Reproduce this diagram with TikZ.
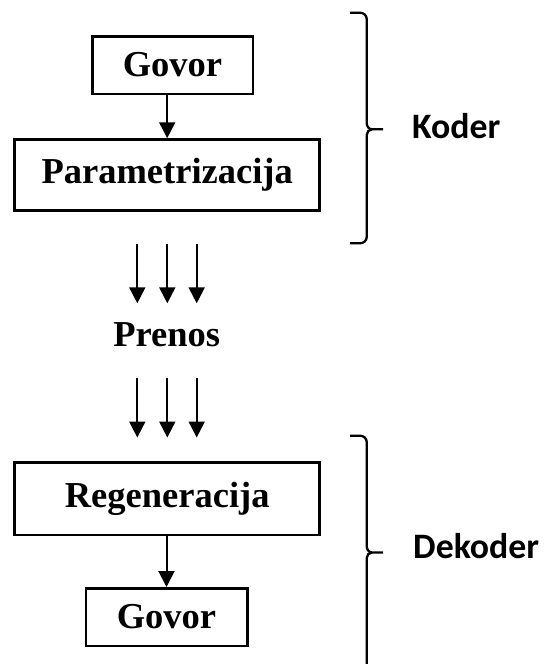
\documentclass[tikz,border=0pt]{standalone}
\usepackage{fontspec}
\setmainfont{Liberation Serif}
\newfontfamily\labelfont{Carlito}
\usetikzlibrary{arrows.meta}
\begin{document}
\begin{tikzpicture}[x=1pt,y=1pt,
  blockfont/.style={font=\bfseries\fontsize{36.5}{42}\selectfont},
  blockbox/.style={draw, line width=2.5pt, inner sep=0pt, blockfont},
  flow/.style={line width=2pt, -{Triangle[length=16pt,width=16pt]}},
  bracket/.style={line width=2.3pt},
  side/.style={font=\labelfont\bfseries\fontsize{35.8}{40}\selectfont,
    inner sep=0pt, anchor=base west}]
\useasboundingbox (0,0) rectangle (544,-664);

% encoder blocks
\node[blockbox, minimum width=160.5pt, minimum height=57.5pt] (g1) at (172.5,-65) {Govor};
\node[blockbox, minimum width=305pt, minimum height=71pt] (p) at (167.2,-175) {Parametrizacija};
\draw[flow] (g1.south -| p.north) -- (p.north);

% transmission
\node[blockfont, inner sep=0pt, anchor=base] (t) at (166.7,-346.7) {Prenos};
\foreach \i/\x in {1/137.3,2/167.3,3/196.7}{
  \coordinate (u\i) at (\x,-244.3);
  \coordinate (v\i) at (\x,-303.3);
  \coordinate (w\i) at (\x,-378.3);
  \coordinate (z\i) at (\x,-437.5);
  \draw[flow] (u\i) -- (v\i);
  \draw[flow] (w\i) -- (z\i);
}

% decoder blocks
\node[blockbox, minimum width=305pt, minimum height=72.5pt] (r) at (167.2,-498.5) {Regeneracija};
\node[blockbox, minimum width=161.5pt, minimum height=57.5pt] (g2) at (166.5,-617) {Govor};
\draw[flow] (r.south -| g2.north) -- (g2.north);

% encoder brace
\draw[bracket] (350,-12.7) -- (360,-12.7) to[out=0,in=90] (366.7,-19) -- (366.7,-123)
  to[out=-90,in=180] (372,-129.3) -- (383,-129.3);
\draw[bracket] (372,-129.3) to[out=180,in=90] (366.7,-135) -- (366.7,-237)
  to[out=-90,in=0] (360,-243.3) -- (350,-243.3);
\node[side] (koder) at (412,-138) {Koder};

% decoder brace
\draw[bracket] (350,-435.7) -- (360,-435.7) to[out=0,in=90] (366.7,-442) -- (366.7,-546)
  to[out=-90,in=180] (372,-552.5) -- (383,-552.5);
\draw[bracket] (372,-552.5) to[out=180,in=90] (366.7,-558) -- (366.7,-664);
\node[side] (dekoder) at (413,-558) {Dekoder};
\end{tikzpicture}
\end{document}
